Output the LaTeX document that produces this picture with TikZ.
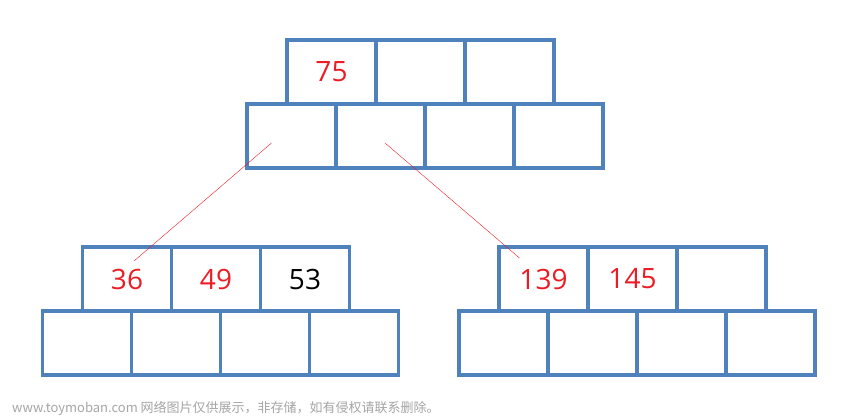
\documentclass[tikz,border=0pt]{standalone}
\usepackage{fontspec}
\setmainfont{Open Sans}
\newfontfamily\cjk{Noto Sans CJK SC}
\usepackage{tikz}
\usetikzlibrary{positioning}
\definecolor{cellblue}{RGB}{79,129,189}
\definecolor{numred}{RGB}{237,28,36}
\definecolor{markgray}{RGB}{165,165,165}
\tikzstyle{cell} = [rectangle, draw=cellblue, line width=3.4pt, minimum width=89pt, minimum height=64pt, inner sep=0pt, outer sep=0pt, text=numred, font=\fontsize{28}{32}\selectfont]
\tikzstyle{link} = [draw=numred, line width=0.4pt]
\begin{document}
\begin{tikzpicture}[x=1pt, y=1pt]
        \useasboundingbox (0,0) rectangle (850,416);

		% root
		\node(r1) [cell] at (331.5,344) {75};
		\node(r2) [cell, right=0pt of r1] {};
		\node(r3) [cell, right=0pt of r2] {};
		\node(rb1) [cell, below=0pt of r1, xshift=-40pt] {};
		\node(rb2) [cell, right=0pt of rb1] {};
		\node(rb3) [cell, right=0pt of rb2] {};
		\node(rb4) [cell, right=0pt of rb3] {};

		% left child
		\node(l1) [cell] at (127,137) {\raisebox{-2pt}{36}};
		\node(l2) [cell, right=0pt of l1] {\raisebox{-2pt}{49}};
		\node(l3) [cell, right=0pt of l2, text=black, xshift=0pt] {\raisebox{-2pt}{53}};
		\node(lb1) [cell, below=0pt of l1, xshift=-40pt] {};
		\node(lb2) [cell, right=0pt of lb1] {};
		\node(lb3) [cell, right=0pt of lb2] {};
		\node(lb4) [cell, right=0pt of lb3] {};

		% right child
		\node(c1) [cell] at (543.5,137) {\raisebox{-2pt}{139}};
		\node(c2) [cell, right=0pt of c1] {\raisebox{-2pt}{145}};
		\node(c3) [cell, right=0pt of c2] {};
		\node(cb1) [cell, below=0pt of c1, xshift=-40pt] {};
		\node(cb2) [cell, right=0pt of cb1] {};
		\node(cb3) [cell, right=0pt of cb2] {};
		\node(cb4) [cell, right=0pt of cb3] {};

		\node(watermark) [anchor=west, text=markgray, inner sep=0pt, font=\cjk\fontsize{13}{15}\selectfont] at (12,8) {www.toymoban.com 网络图片仅供展示，非存储，如有侵权请联系删除。};

		 % Draw edges
		 \path [link] ([xshift=-20pt, yshift=-7pt]rb1.center) -- ([xshift=7pt, yshift=18pt]l1.center);
		 \path [link] ([xshift=4.5pt, yshift=-7pt]rb2.center) -- ([xshift=-24pt, yshift=21pt]c1.center);

         \end{tikzpicture}
\end{document}
